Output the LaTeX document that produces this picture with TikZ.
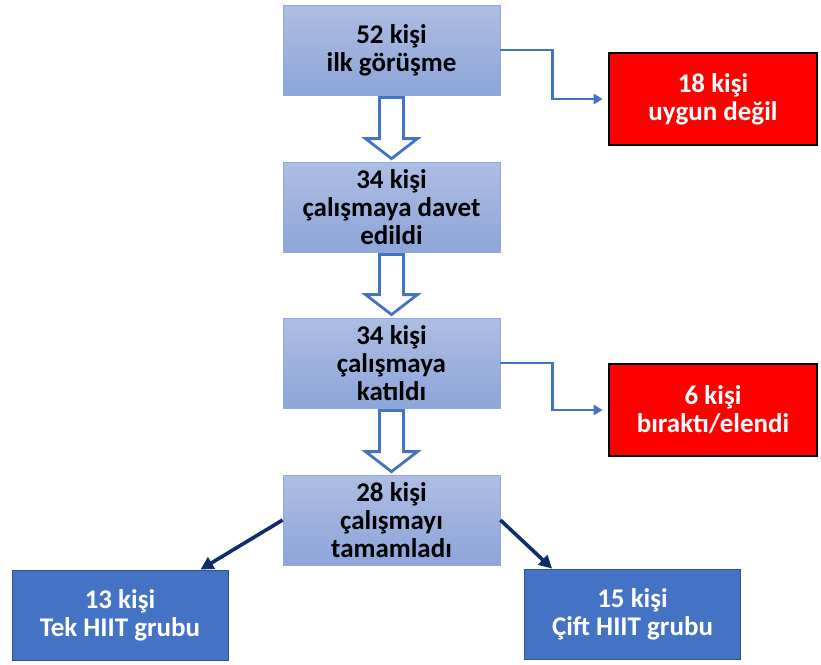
\documentclass[tikz,border=0pt]{standalone}
\usepackage{fontspec}
\setmainfont{Carlito}
\usetikzlibrary{positioning,calc,arrows.meta}

\definecolor{stagetop}{HTML}{AEBDE3}
\definecolor{stagebot}{HTML}{8DA5D9}
\definecolor{stageline}{HTML}{8FAADC}
\definecolor{linkblue}{HTML}{4472C4}
\definecolor{splitnavy}{HTML}{0F2D6B}
\definecolor{groupline}{HTML}{2F528F}

\tikzset{
  stage/.style={draw=stageline, line width=0.8pt, top color=stagetop, bottom color=stagebot,
    minimum width=217pt, minimum height=90pt, align=center, text=black,
    font=\bfseries\fontsize{27}{28}\selectfont},
  drop/.style={draw=black, line width=2.6pt, fill=red, minimum width=208pt, minimum height=92pt,
    align=center, text=white, font=\bfseries\fontsize{27}{28}\selectfont},
  group/.style={draw=groupline, line width=0.8pt, fill=linkblue, minimum width=216pt,
    minimum height=90pt, align=center, text=white, font=\bfseries\fontsize{27}{28}\selectfont},
  hollow/.style={draw=linkblue, line width=2.8pt, fill=white, line join=miter},
  elbow/.style={draw=linkblue, line width=2.8pt, -{Triangle[length=9pt,width=10pt]}, shorten >=5pt},
  split/.style={draw=splitnavy, line width=3.6pt, -{Triangle[length=13pt,width=13pt]}}
}

% hollow down arrow between two stages
\newcommand{\hollowarrow}[2]{%
  \draw[hollow] ($(#1.south)+(-12,2)$) -- ($(#1.south)+(12,2)$) -- ($(#2.north)+(12,-23)$)
    -- ($(#2.north)+(26,-23)$) -- ($(#2.north)+(0,-3)$) -- ($(#2.north)+(-26,-23)$)
    -- ($(#2.north)+(-12,-23)$) -- cycle;}

\begin{document}
\begin{tikzpicture}[x=1pt, y=-1pt]
    \useasboundingbox (0,0) rectangle (821,664);

    % Main stages
    \node[stage] (first)   at (391.5,50)  {52 kişi\\ilk görüşme};
    \node[stage] (invited) at (391.5,207) {34 kişi\\çalışmaya davet\\edildi};
    \node[stage] (joined)  at (391.5,363) {34 kişi\\çalışmaya\\katıldı};
    \node[stage] (done)    at (391.5,520) {28 kişi\\çalışmayı\\tamamladı};

    % Exclusions
    \node[drop] (unfit)   at (713,99)  {18 kişi\\uygun değil};
    \node[drop] (dropped) at (713,410) {6 kişi\\bıraktı/elendi};

    % Groups
    \node[group] (single) at (120,615)   {13 kişi\\Tek HIIT grubu};
    \node[group] (double) at (632.5,614) {15 kişi\\Çift HIIT grubu};

    % Flow
    \hollowarrow{first}{invited}
    \hollowarrow{invited}{joined}
    \hollowarrow{joined}{done}

    \draw[elbow] (first.east) -- ++(52,0) |- (unfit.west);
    \draw[elbow] (joined.east) -- ++(52,0) |- (dropped.west);

    \draw[split] (done.west) -- ($(single.north east)+(-28,0)$);
    \draw[split] (done.east) -- ($(double.north west)+(28,0)$);
\end{tikzpicture}
\end{document}
